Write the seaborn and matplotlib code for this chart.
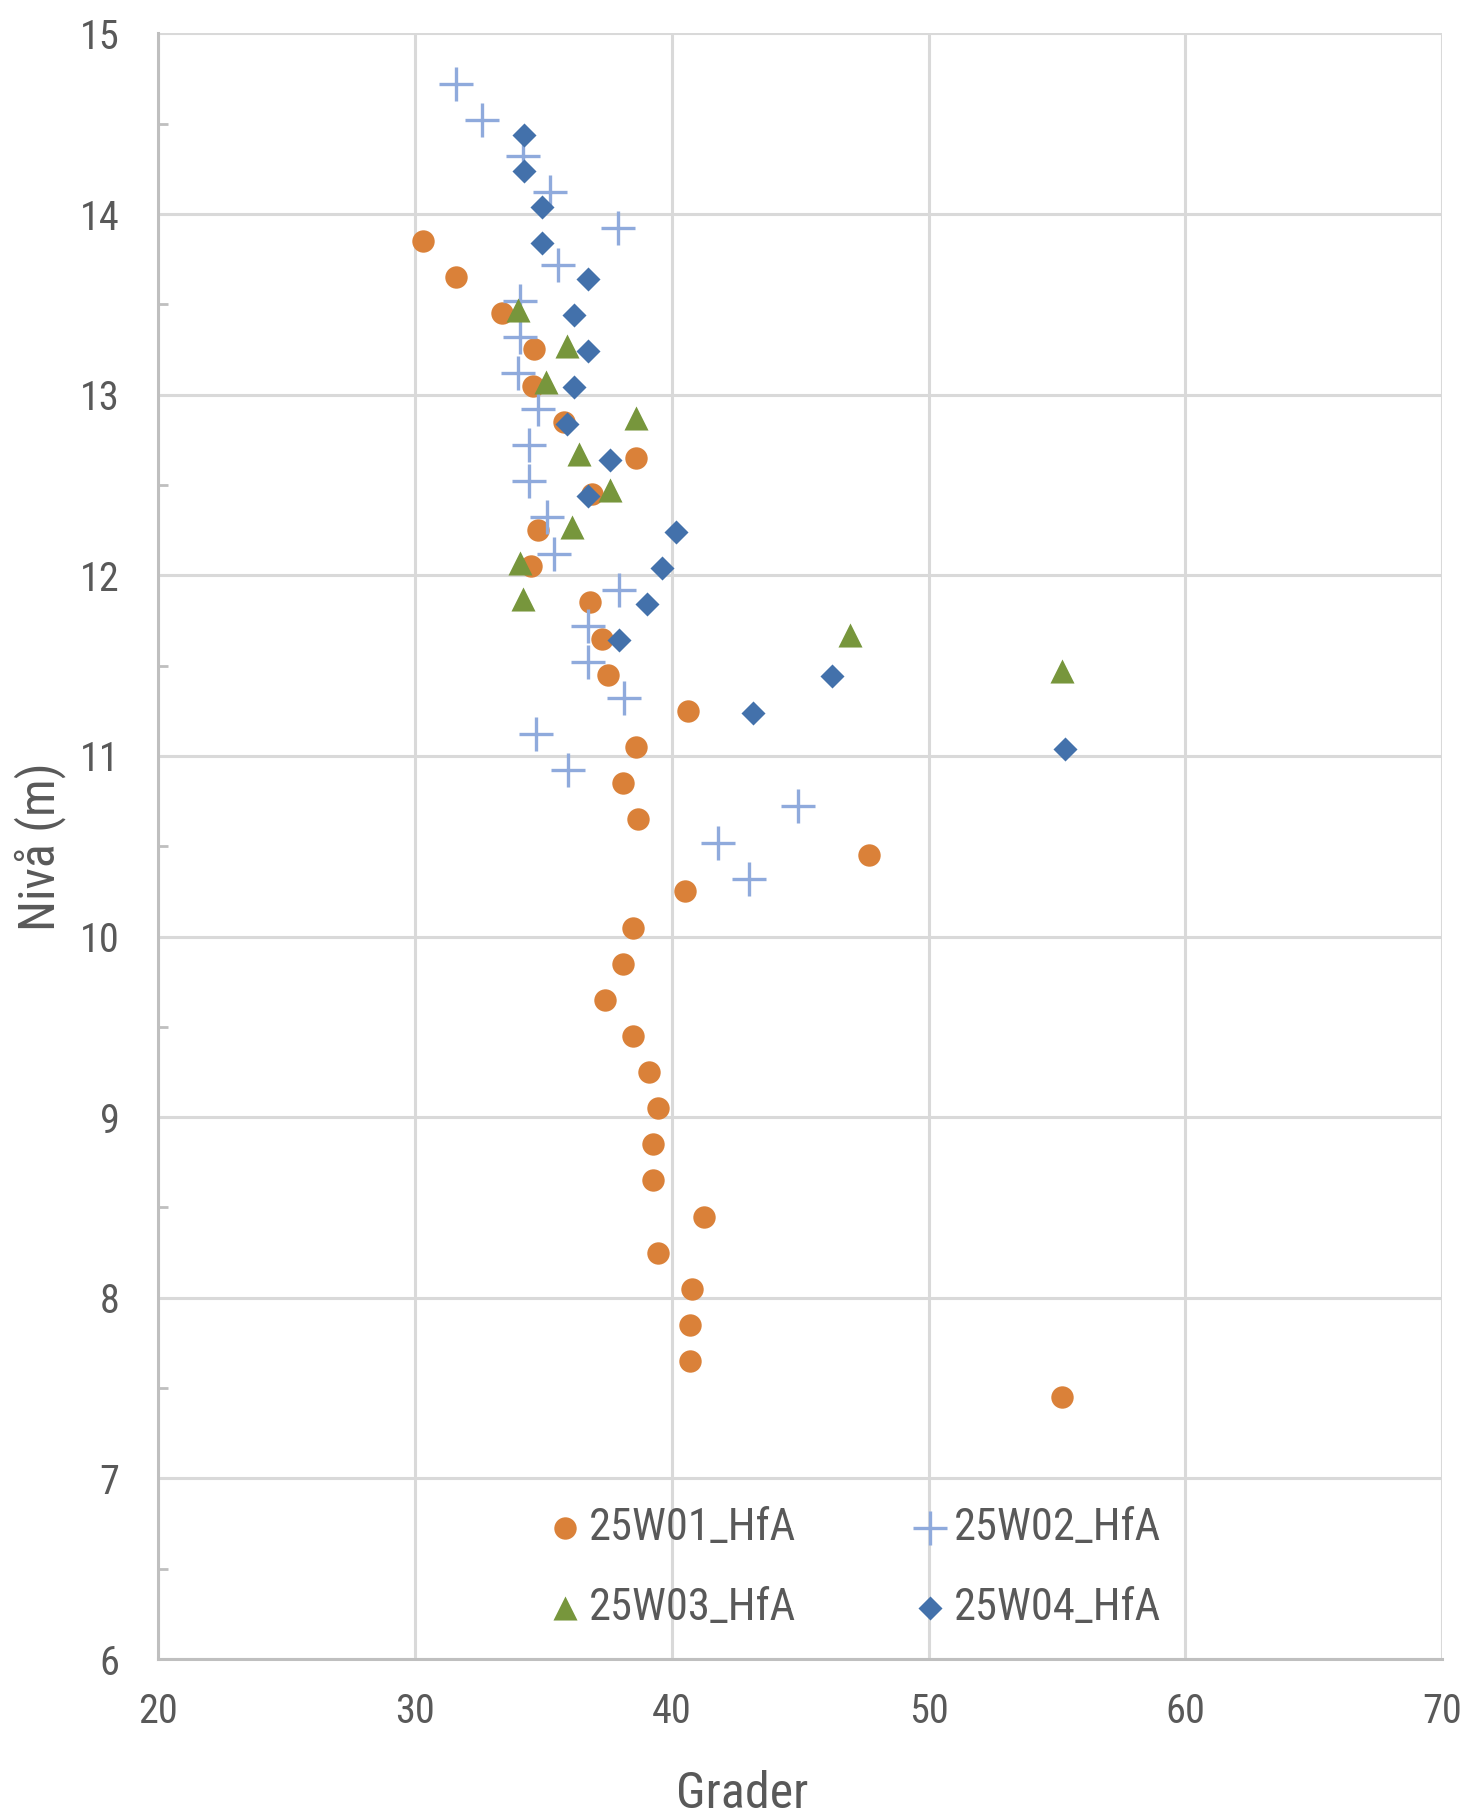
import numpy as np
import pandas as pd
import matplotlib
matplotlib.use("Agg")
import matplotlib.pyplot as plt
import seaborn as sns
from matplotlib import font_manager

# --- data ---
w01_x = [30.3, 31.6, 33.4, 34.65, 34.6, 35.8, 38.6, 36.9, 34.8, 34.5, 36.8, 37.3, 37.5,
         40.65, 38.6, 38.1, 38.7, 47.7, 40.5, 38.5, 38.1, 37.4, 38.5, 39.1, 39.45, 39.25,
         39.25, 41.25, 39.45, 40.8, 40.7, 40.7, 55.2]
w01_y = [13.85, 13.65, 13.45, 13.25, 13.05, 12.85, 12.65, 12.45, 12.25, 12.05, 11.85, 11.65,
         11.45, 11.25, 11.05, 10.85, 10.65, 10.45, 10.25, 10.05, 9.85, 9.65, 9.45, 9.25,
         9.05, 8.85, 8.65, 8.45, 8.25, 8.05, 7.85, 7.65, 7.45]

w02_x = [31.6, 32.6, 34.2, 35.25, 37.9, 35.55, 34.1, 34.1, 34.0, 34.8, 34.45, 34.45, 35.15,
         35.4, 37.95, 36.75, 36.75, 38.15, 34.7, 35.95, 44.9, 41.8, 43.0]
w02_y = [14.72, 14.52, 14.32, 14.12, 13.92, 13.72, 13.52, 13.32, 13.12, 12.92, 12.72, 12.52,
         12.32, 12.12, 11.92, 11.72, 11.52, 11.32, 11.12, 10.92, 10.72, 10.52, 10.32]

w03_x = [34.0, 35.9, 35.1, 38.6, 36.4, 37.6, 36.1, 34.1, 34.2, 46.95, 55.2]
w03_y = [13.47, 13.27, 13.07, 12.87, 12.67, 12.47, 12.27, 12.07, 11.87, 11.67, 11.47]

w04_x = [34.25, 34.25, 34.95, 34.95, 36.75, 36.2, 36.75, 36.2, 35.9, 37.6, 36.75, 40.15,
         39.6, 39.05, 37.95, 46.25, 43.15, 55.3]
w04_y = [14.44, 14.24, 14.04, 13.84, 13.64, 13.44, 13.24, 13.04, 12.84, 12.64, 12.44, 12.24,
         12.04, 11.84, 11.64, 11.44, 11.24, 11.04]

names = ["25W01_HfA", "25W02_HfA", "25W03_HfA", "25W04_HfA"]

sns.set_theme(style="white")
installed = {f.name for f in font_manager.fontManager.ttflist}
fam = [f for f in ["Liberation Sans Narrow", "Roboto Condensed", "Roboto"] if f in installed]
plt.rcParams["font.family"] = fam + ["DejaVu Sans"]

txt = "#595959"
grid_c = "#D9D9D9"

fig = plt.figure(figsize=(14.66, 18.14), dpi=100)
ax = fig.add_axes([0.108, 0.0854, 0.8756, 0.8962])

df1 = pd.DataFrame({"x": w01_x, "y": w01_y})
df2 = pd.DataFrame({"x": w02_x, "y": w02_y})
df3 = pd.DataFrame({"x": w03_x, "y": w03_y})
df4 = pd.DataFrame({"x": w04_x, "y": w04_y})

sns.scatterplot(data=df1, x="x", y="y", ax=ax, marker="o", s=260, color="#DA8139",
                linewidth=0, label=names[0], zorder=3)
sns.scatterplot(data=df2, x="x", y="y", ax=ax, marker="+", s=620, color="#8FAADC",
                linewidth=2.4, label=names[1], zorder=3)
sns.scatterplot(data=df3, x="x", y="y", ax=ax, marker="^", s=300, color="#77963C",
                linewidth=0, label=names[2], zorder=3)
sns.scatterplot(data=df4, x="x", y="y", ax=ax, marker="D", s=150, color="#4371AB",
                linewidth=0, label=names[3], zorder=3)

ax.set_xlim(20, 70)
ax.set_ylim(6, 15)
ax.set_xticks(np.arange(20, 71, 10))
ax.set_yticks(np.arange(6, 16, 1))
ax.set_yticks(np.arange(6.5, 15, 1), minor=True)
ax.grid(True, which="major", color=grid_c, linewidth=2.2, zorder=0)
ax.set_axisbelow(True)
for s in ["top", "right"]:
    ax.spines[s].set_visible(False)
for s in ["left", "bottom"]:
    ax.spines[s].set_color("#BFBFBF")
    ax.spines[s].set_linewidth(2.2)
ax.tick_params(axis="both", which="major", length=0, labelsize=29, labelcolor=txt)
ax.tick_params(axis="x", which="major", pad=24)
ax.tick_params(axis="y", which="major", pad=28)
ax.tick_params(axis="y", which="minor", direction="in", length=7, width=2, color="#BFBFBF", left=True)

ax.set_xlabel("Grader", fontsize=36, color=txt)
ax.xaxis.set_label_coords(0.4545, -0.068)
ax.set_ylabel("Nivå (m)", fontsize=36, color=txt, labelpad=10)

# legend: row-wise order like the reference (W01, W02 / W03, W04)
h, l = ax.get_legend_handles_labels()
order = [0, 2, 1, 3]
leg = ax.legend([h[i] for i in order], [l[i] for i in order], loc="center",
                bbox_to_anchor=(0.542, 0.056), ncol=2, frameon=False,
                fontsize=32, labelcolor=txt, columnspacing=2.6, handletextpad=0.15,
                labelspacing=0.85, markerscale=1.0, handlelength=0.8)

fig.savefig("out.png", dpi=100)
